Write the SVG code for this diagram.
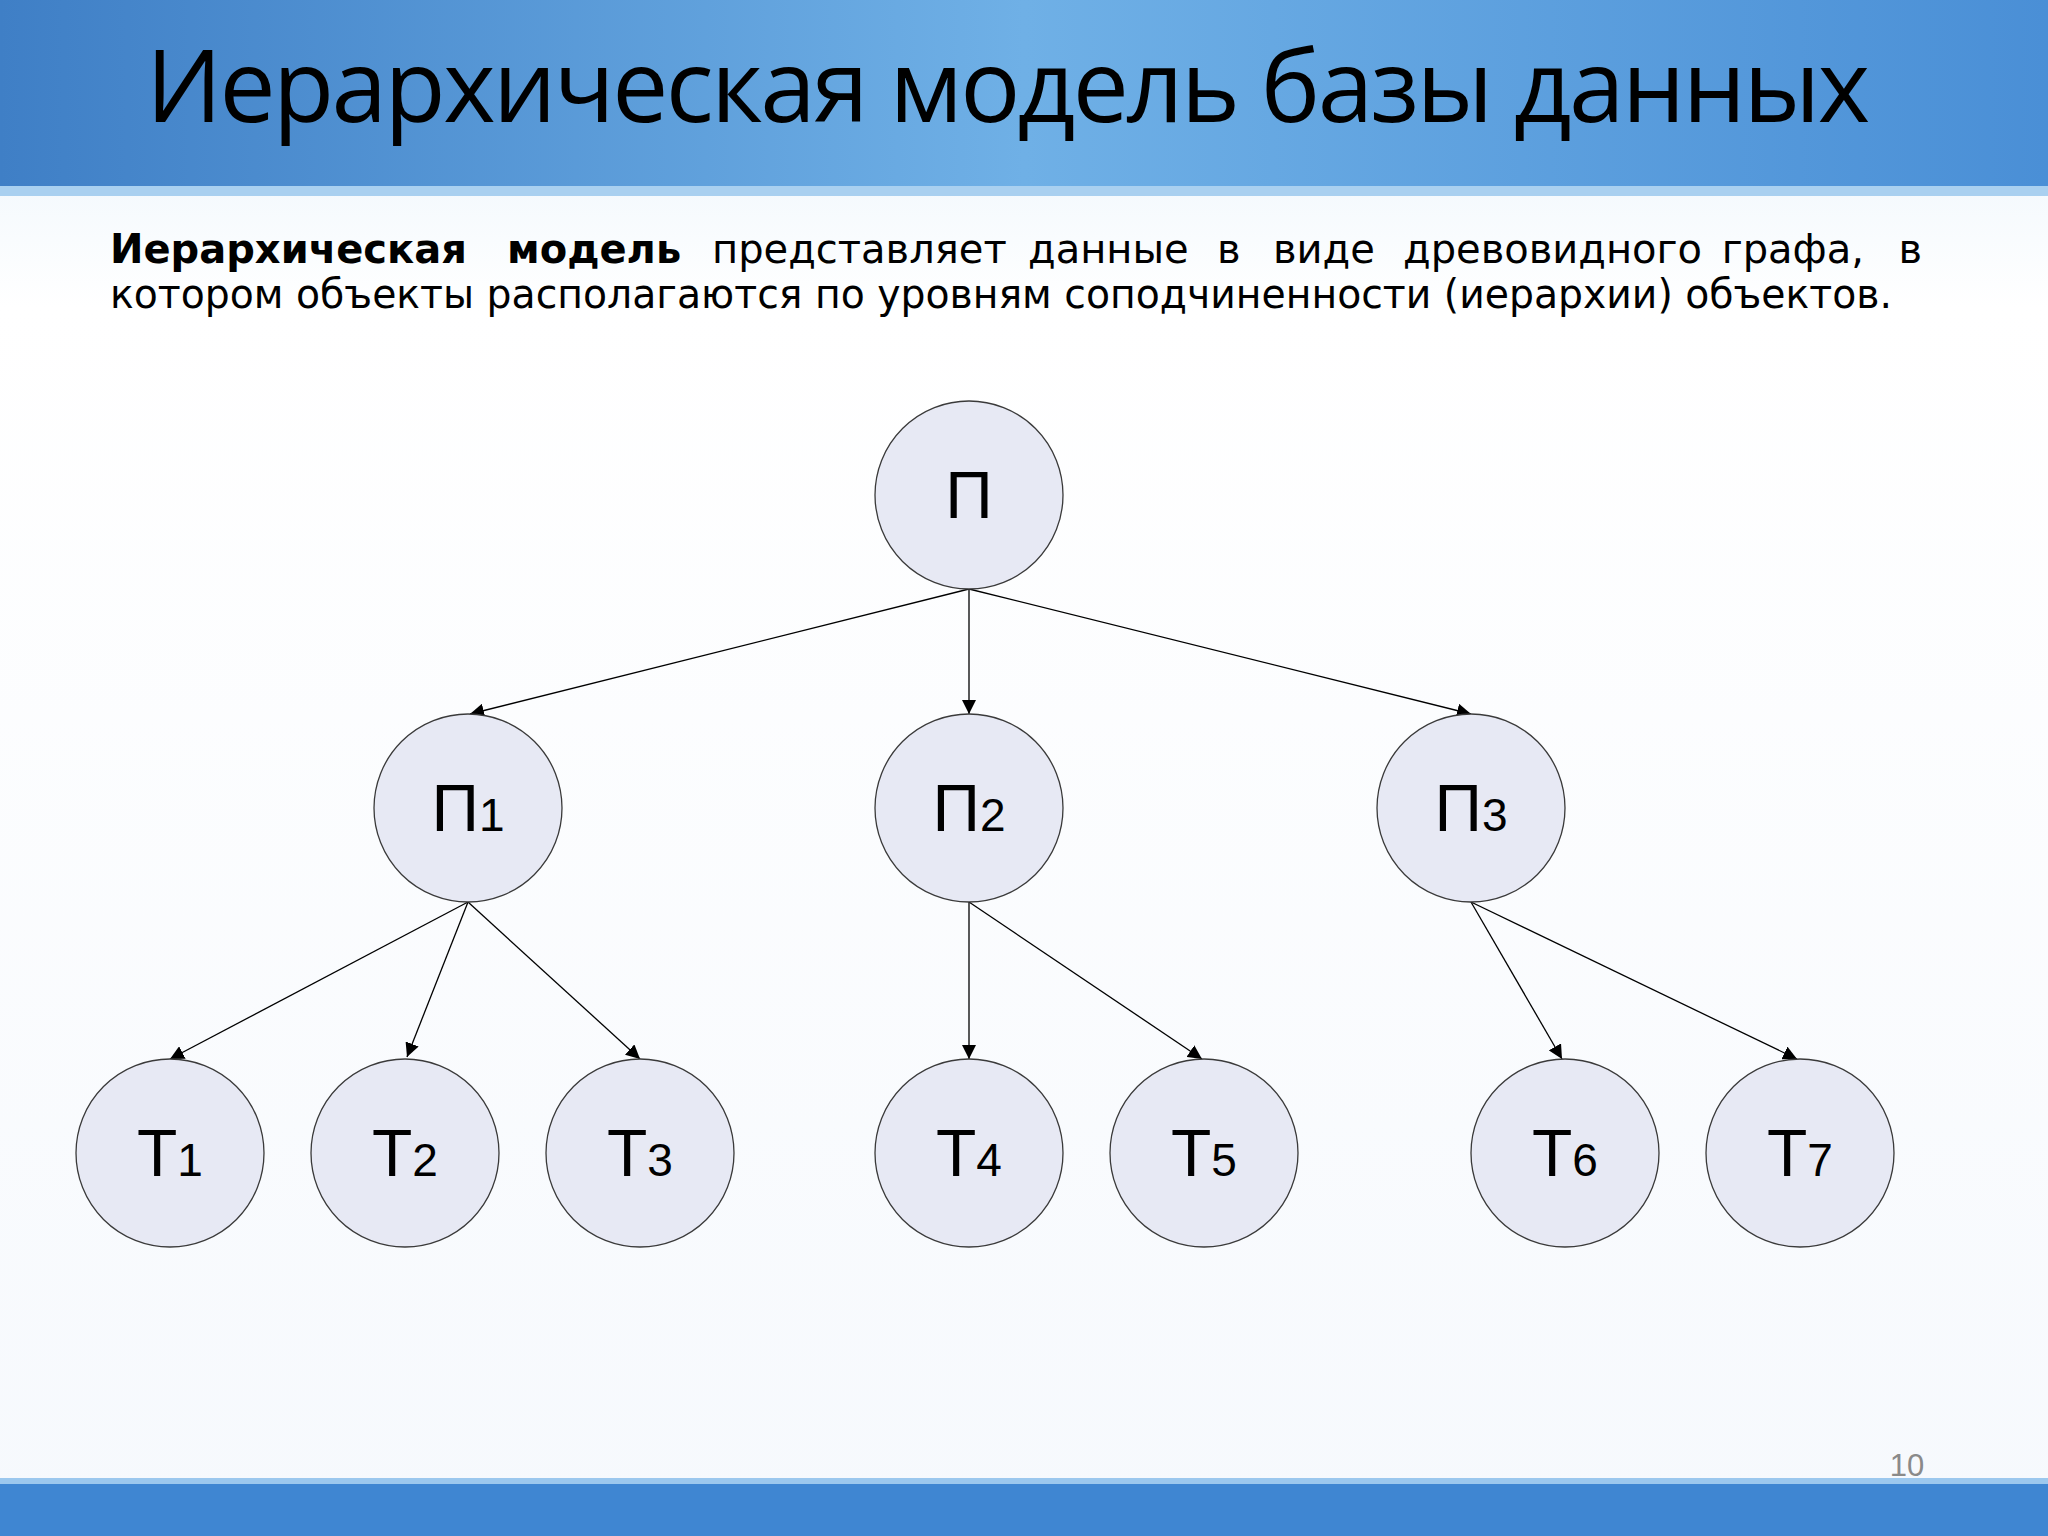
<svg xmlns="http://www.w3.org/2000/svg" width="2048" height="1536" viewBox="0 0 2048 1536">
<defs>
<linearGradient id="hdr" x1="0" y1="0" x2="1" y2="0"><stop offset="0" stop-color="#3f7fc6"/><stop offset="0.5" stop-color="#6fb0e6"/><stop offset="1" stop-color="#4a8fd6"/></linearGradient>
<linearGradient id="bg" x1="0" y1="0" x2="0" y2="1"><stop offset="0" stop-color="#e4f1fb"/><stop offset="0.2" stop-color="#ffffff"/><stop offset="1" stop-color="#f6f9fd"/></linearGradient>
<marker id="ah" viewBox="0 0 10 10" refX="10" refY="5" markerWidth="14" markerHeight="14" markerUnits="userSpaceOnUse" orient="auto"><path d="M0,0 L10,5 L0,10 z" fill="#000"/></marker>
<style>
.n{fill:#e7e9f4;stroke:#3a3a3a;stroke-width:1.3}
.l{font-family:"Liberation Sans",Arial,sans-serif;font-size:66px;fill:#000;text-anchor:middle}
.s{font-size:46px}
.e{stroke:#000;stroke-width:1.3;fill:none;marker-end:url(#ah)}
.p{font-family:"DejaVu Sans",Verdana,sans-serif;font-size:40px;fill:#000}
</style>
</defs>
<rect width="2048" height="1536" fill="url(#bg)"/>
<rect width="2048" height="196" fill="url(#hdr)"/>
<rect y="186" width="2048" height="10" fill="#a9d0f0"/>
<rect y="1482" width="2048" height="54" fill="#3f86d2"/>
<rect y="1478" width="2048" height="6" fill="#9cc8ee"/>
<text x="146" y="122" font-family="'Open Sans','Liberation Sans',sans-serif" font-size="100" textLength="1724" fill="#000">Иерархическая модель базы данных</text>
<text class="p" y="263"><tspan x="110" font-weight="bold">Иерархическая</tspan><tspan x="507" font-weight="bold">модель</tspan><tspan x="712">представляет</tspan><tspan x="1028">данные</tspan><tspan x="1217">в</tspan><tspan x="1273">виде</tspan><tspan x="1403">древовидного</tspan></text>
<text class="p" y="263" text-anchor="end"><tspan x="1864">графа,</tspan><tspan x="1922">в</tspan></text>
<text class="p" x="110" y="308" textLength="1782" lengthAdjust="spacingAndGlyphs">котором объекты располагаются по уровням соподчиненности (иерархии) объектов.</text>
<text x="1907" y="1476" font-family="'Liberation Sans',Arial,sans-serif" font-size="31" fill="#8a8a8a" text-anchor="middle">10</text>
<g id="edges">
<line class="e" x1="969" y1="589" x2="470" y2="714"/>
<line class="e" x1="969" y1="589" x2="969" y2="714"/>
<line class="e" x1="969" y1="589" x2="1471" y2="714"/>
<line class="e" x1="468" y1="902" x2="170" y2="1059"/>
<line class="e" x1="468" y1="902" x2="407" y2="1057"/>
<line class="e" x1="468" y1="902" x2="640" y2="1059"/>
<line class="e" x1="969" y1="902" x2="969" y2="1059"/>
<line class="e" x1="969" y1="902" x2="1202" y2="1059"/>
<line class="e" x1="1471" y1="902" x2="1562" y2="1059"/>
<line class="e" x1="1471" y1="902" x2="1797" y2="1059"/>
</g>
<g id="P"><circle class="n" cx="969" cy="495" r="94"/><text class="l" x="969" y="518">П</text></g>
<g id="P1"><circle class="n" cx="468" cy="808" r="94"/><text class="l" x="468" y="831">П<tspan class="s">1</tspan></text></g>
<g id="P2"><circle class="n" cx="969" cy="808" r="94"/><text class="l" x="969" y="831">П<tspan class="s">2</tspan></text></g>
<g id="P3"><circle class="n" cx="1471" cy="808" r="94"/><text class="l" x="1471" y="831">П<tspan class="s">3</tspan></text></g>
<g id="T1"><circle class="n" cx="170" cy="1153" r="94"/><text class="l" x="170" y="1176">Т<tspan class="s">1</tspan></text></g>
<g id="T2"><circle class="n" cx="405" cy="1153" r="94"/><text class="l" x="405" y="1176">Т<tspan class="s">2</tspan></text></g>
<g id="T3"><circle class="n" cx="640" cy="1153" r="94"/><text class="l" x="640" y="1176">Т<tspan class="s">3</tspan></text></g>
<g id="T4"><circle class="n" cx="969" cy="1153" r="94"/><text class="l" x="969" y="1176">Т<tspan class="s">4</tspan></text></g>
<g id="T5"><circle class="n" cx="1204" cy="1153" r="94"/><text class="l" x="1204" y="1176">Т<tspan class="s">5</tspan></text></g>
<g id="T6"><circle class="n" cx="1565" cy="1153" r="94"/><text class="l" x="1565" y="1176">Т<tspan class="s">6</tspan></text></g>
<g id="T7"><circle class="n" cx="1800" cy="1153" r="94"/><text class="l" x="1800" y="1176">Т<tspan class="s">7</tspan></text></g>
</svg>
